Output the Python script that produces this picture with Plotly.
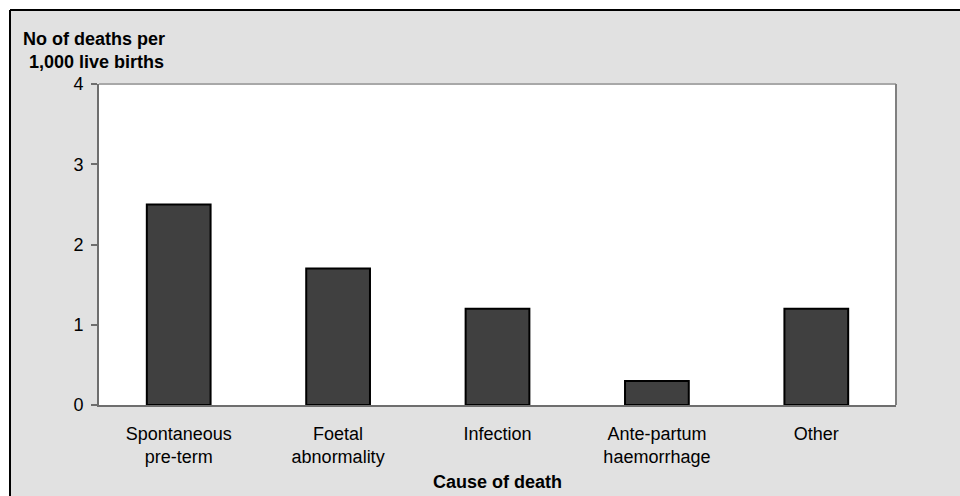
import plotly.graph_objects as go

categories = ["Spontaneous<br>pre-term", "Foetal<br>abnormality", "Infection",
              "Ante-partum<br>haemorrhage", "Other"]
deaths_per_1000 = [2.5, 1.7, 1.2, 0.3, 1.2]
y_ticks = [0, 1, 2, 3, 4]

FONT = "Liberation Sans, Arial, sans-serif"

fig = go.Figure(
    go.Bar(
        x=categories,
        y=deaths_per_1000,
        width=0.4,
        marker=dict(color="#404040", line=dict(color="#000000", width=2)),
    )
)

fig.update_layout(
    width=960,
    height=496,
    paper_bgcolor="#e1e1e1",
    plot_bgcolor="#ffffff",
    margin=dict(l=99, r=64, t=84, b=91),
    showlegend=False,
    font=dict(family=FONT, size=18, color="#000000"),
    bargap=0.6,
)

fig.update_xaxes(
    automargin=False,
    showgrid=False,
    showline=True,
    linecolor="#6e6e6e",
    linewidth=2,
    ticks="",
    ticklabelstandoff=11,
    tickfont=dict(size=18),
    title=dict(text="<b>Cause of death</b>", font=dict(size=18), standoff=9),
)
fig.update_yaxes(
    automargin=False,
    range=[0, 4],
    tickvals=y_ticks,
    showgrid=False,
    zeroline=False,
    showline=True,
    linecolor="#6e6e6e",
    linewidth=2,
    ticks="outside",
    ticklen=6,
    tickcolor="#6e6e6e",
    tickwidth=2,
    ticklabelstandoff=4,
    tickfont=dict(size=18),
)

# white margin strip above and left of the grey panel, with a dark rule at its edge
X_EDGE = -89 / 797
Y_EDGE = 1 + 74 / 321
fig.add_shape(type="rect", xref="paper", yref="paper",
              x0=-0.3, x1=1.2, y0=Y_EDGE, y1=1.5,
              fillcolor="#ffffff", line=dict(width=0))
fig.add_shape(type="rect", xref="paper", yref="paper",
              x0=-0.3, x1=X_EDGE, y0=-0.5, y1=1.5,
              fillcolor="#ffffff", line=dict(width=0))
fig.add_shape(type="line", xref="paper", yref="paper",
              x0=X_EDGE, x1=1.2, y0=Y_EDGE, y1=Y_EDGE,
              line=dict(color="#000000", width=2))
fig.add_shape(type="line", xref="paper", yref="paper",
              x0=X_EDGE, x1=X_EDGE, y0=-0.5, y1=Y_EDGE,
              line=dict(color="#000000", width=2))

# plot-area frame on top and right
fig.add_shape(type="line", xref="paper", yref="paper",
              x0=0, x1=1, y0=1, y1=1,
              line=dict(color="#a8a8a8", width=2))
fig.add_shape(type="line", xref="paper", yref="paper",
              x0=1, x1=1, y0=0, y1=1,
              line=dict(color="#808080", width=2))

fig.add_annotation(
    text="<b>No of deaths per<br> 1,000 live births</b>",
    xref="paper", yref="paper", x=-0.006, y=1.0,
    xanchor="center", yanchor="bottom", yshift=10,
    showarrow=False, align="center",
    font=dict(size=18, family=FONT),
)

fig.write_html("out.html")
